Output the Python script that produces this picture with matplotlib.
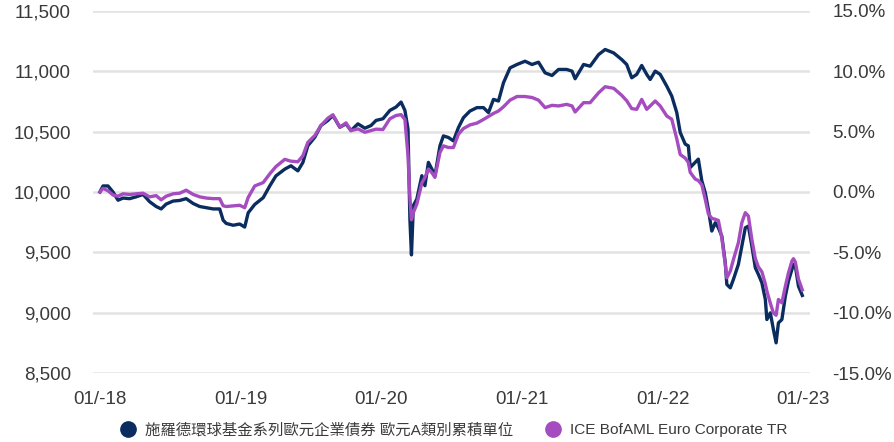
import matplotlib
matplotlib.use("Agg")
import matplotlib.pyplot as plt
import matplotlib.dates as mdates
from matplotlib.lines import Line2D
from matplotlib.ticker import FuncFormatter, MultipleLocator
import pandas as pd

plt.rcParams["font.family"] = ["Liberation Sans", "Noto Sans CJK TC", "DejaVu Sans"]
plt.rcParams["axes.unicode_minus"] = False

# growth of 10,000 invested, sampled roughly every two weeks
dates = [
    "2018-01-01", "2018-01-09", "2018-01-22", "2018-02-04", "2018-02-17", "2018-03-02",
    "2018-03-19", "2018-04-05", "2018-04-23", "2018-05-10", "2018-05-27", "2018-06-09",
    "2018-06-22", "2018-07-10", "2018-07-27", "2018-08-13", "2018-08-31", "2018-09-17",
    "2018-10-04", "2018-10-22", "2018-11-08", "2018-11-17", "2018-11-25", "2018-12-13",
    "2018-12-30", "2019-01-12", "2019-01-21", "2019-02-07", "2019-03-01", "2019-03-18",
    "2019-04-03", "2019-04-26", "2019-05-12", "2019-05-30", "2019-06-12", "2019-06-25",
    "2019-07-13", "2019-07-29", "2019-08-16", "2019-08-29", "2019-09-16", "2019-10-02",
    "2019-10-15", "2019-11-02", "2019-11-20", "2019-12-06", "2019-12-19", "2020-01-06",
    "2020-01-24", "2020-02-09", "2020-02-22", "2020-03-03", "2020-03-11", "2020-03-16",
    "2020-03-20", "2020-03-25", "2020-04-03", "2020-04-16", "2020-04-24", "2020-05-03",
    "2020-05-12", "2020-05-20", "2020-06-02", "2020-06-11", "2020-06-24", "2020-07-07",
    "2020-07-20", "2020-08-02", "2020-08-19", "2020-09-06", "2020-09-23", "2020-10-06",
    "2020-10-19", "2020-11-01", "2020-11-14", "2020-12-01", "2020-12-19", "2021-01-09",
    "2021-01-27", "2021-02-13", "2021-03-02", "2021-03-20", "2021-04-06", "2021-04-27",
    "2021-05-11", "2021-05-19", "2021-06-10", "2021-06-27", "2021-07-19", "2021-08-05",
    "2021-08-27", "2021-09-17", "2021-09-30", "2021-10-13", "2021-10-26", "2021-11-08",
    "2021-11-21", "2021-11-30", "2021-12-13", "2021-12-26", "2022-01-12", "2022-01-25",
    "2022-02-07", "2022-02-16", "2022-03-01", "2022-03-09", "2022-03-14", "2022-03-27",
    "2022-04-04", "2022-04-13", "2022-04-22", "2022-04-30", "2022-05-09", "2022-05-18",
    "2022-05-26", "2022-06-04", "2022-06-13", "2022-06-17", "2022-06-26", "2022-07-04",
    "2022-07-17", "2022-07-26", "2022-08-04", "2022-08-12", "2022-08-21", "2022-08-30",
    "2022-09-07", "2022-09-16", "2022-09-25", "2022-09-29", "2022-10-08", "2022-10-16",
    "2022-10-23", "2022-10-29", "2022-11-07", "2022-11-16", "2022-11-24", "2022-12-03",
    "2022-12-07", "2022-12-12", "2022-12-20", "2022-12-30",
]

fund = [
    10000, 10050, 10050, 10000, 9932, 9950,
    9945, 9960, 9980, 9920, 9880, 9860,
    9900, 9925, 9930, 9945, 9905, 9880,
    9870, 9860, 9860, 9767, 9740, 9725,
    9735, 9710, 9828, 9897, 9953, 10050,
    10133, 10189, 10217, 10175, 10244, 10383,
    10453, 10550, 10592, 10633, 10536, 10564,
    10508, 10564, 10528, 10550, 10592, 10606,
    10675, 10703, 10744, 10675, 10522, 9772,
    9480, 9888, 9942, 10135, 10052, 10245,
    10190, 10135, 10382, 10464, 10451, 10423,
    10533, 10615, 10670, 10698, 10698, 10657,
    10766, 10753, 10904, 11027, 11055, 11082,
    11055, 11074, 10986, 10964, 11014, 11014,
    11000, 10937, 11055, 11041, 11137, 11179,
    11151, 11096, 11055, 10945, 10973, 11047,
    10973, 10931, 11000, 10973, 10876, 10794,
    10657, 10492, 10396, 10382, 10203, 10245,
    10272, 10093, 9994, 9856, 9677, 9746,
    9704, 9635, 9414, 9235, 9207, 9276,
    9401, 9553, 9704, 9718, 9553, 9373,
    9318, 9249, 9111, 8945, 9000, 8862,
    8752, 8917, 8945, 9138, 9263, 9359,
    9401, 9387, 9221, 9144,
]

benchmark = [
    10000, 10030, 10010, 9975, 9965, 9985,
    9980, 9985, 9990, 9960, 9970, 9935,
    9965, 9985, 9990, 10015, 9980, 9960,
    9950, 9945, 9945, 9886, 9880, 9885,
    9890, 9870, 9955, 10050, 10078, 10150,
    10210, 10270, 10255, 10250, 10300, 10411,
    10467, 10550, 10611, 10639, 10536, 10572,
    10508, 10522, 10494, 10508, 10520, 10517,
    10606, 10633, 10640, 10600, 10300, 9950,
    9770, 9830, 9900, 10075, 10120, 10190,
    10160, 10121, 10327, 10382, 10368, 10368,
    10478, 10525, 10555, 10570, 10600, 10625,
    10650, 10670, 10705, 10760, 10790, 10790,
    10782, 10760, 10698, 10717, 10712, 10725,
    10712, 10662, 10739, 10739, 10821, 10871,
    10858, 10800, 10755, 10690, 10684, 10766,
    10684, 10712, 10753, 10712, 10629, 10602,
    10440, 10310, 10280, 10245, 10162, 10107,
    10095, 10060, 9939, 9820, 9782, 9774,
    9765, 9620, 9400, 9290, 9345, 9440,
    9580, 9746, 9829, 9801, 9608, 9450,
    9380, 9340, 9240, 9180, 9080, 9000,
    8980, 9111, 9083, 9220, 9330, 9428,
    9448, 9420, 9280, 9190,
]

series_labels = ["施羅德環球基金系列歐元企業債券 歐元A類別累積單位", "ICE BofAML Euro Corporate TR"]
year_ticks = ["2018-01-01", "2019-01-01", "2020-01-01", "2021-01-01", "2022-01-01", "2023-01-01"]

NAVY = "#0a2c5e"
PURPLE = "#a54cc0"
TEXT = "#3a3a3a"
GRID = "#e2e2e2"

df = pd.DataFrame({"date": pd.to_datetime(dates), "fund": fund, "bench": benchmark})

fig = plt.figure(figsize=(8.95, 4.42), dpi=100, facecolor="white")
ax = fig.add_axes([93 / 895, 1 - 373.3 / 442, (810 - 93) / 895, (373.3 - 10.7) / 442])

ax.plot(df["date"], df["fund"], color=NAVY, lw=2.4, solid_joinstyle="round", zorder=3)
ax.plot(df["date"], df["bench"], color=PURPLE, lw=2.4, solid_joinstyle="round", zorder=4)

ax.set_ylim(8500, 11500)
ax.yaxis.set_major_locator(MultipleLocator(500))
ax.yaxis.set_major_formatter(FuncFormatter(lambda v, _: f"{v:,.0f}"))
ax.set_xlim(pd.Timestamp("2017-12-14"), pd.Timestamp("2023-01-19"))
ax.set_xticks(pd.to_datetime(year_ticks))
ax.xaxis.set_major_formatter(mdates.DateFormatter("%m/-%y"))

ax.grid(axis="y", color=GRID, lw=1.8, zorder=0)
ax.set_axisbelow(True)
for s in ax.spines.values():
    s.set_visible(False)
ax.tick_params(axis="both", length=0, labelsize=13.5, colors=TEXT)
ax.tick_params(axis="y", pad=16)
ax.tick_params(axis="x", pad=13)

# right-hand scale: percentage change from the 10,000 start
ax2 = ax.twinx()
ax2.set_ylim(-15, 15)
ax2.yaxis.set_major_locator(MultipleLocator(5))
ax2.yaxis.set_major_formatter(FuncFormatter(lambda v, _: f"{v:.1f}%"))
for s in ax2.spines.values():
    s.set_visible(False)
ax2.tick_params(axis="y", length=0, labelsize=13.5, colors=TEXT, pad=16)

handles = [
    Line2D([], [], marker="o", ls="none", ms=11, color=NAVY),
    Line2D([], [], marker="o", ls="none", ms=11, color=PURPLE),
]
fig.legend(handles, series_labels, loc="center", bbox_to_anchor=(454 / 895, 1 - 430 / 442),
           ncol=2, frameon=False, fontsize=11.1, labelcolor=TEXT,
           handlelength=1.0, handletextpad=0.6, columnspacing=2.1)

fig.savefig("out.png", dpi=100, facecolor="white")
